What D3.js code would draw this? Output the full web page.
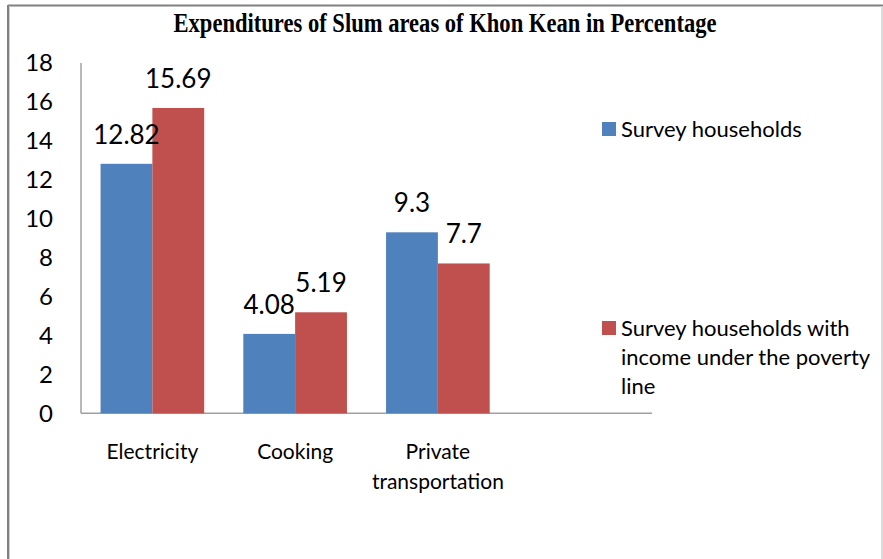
<!DOCTYPE html>
<html>
<head>
<meta charset="utf-8">
<script src="https://cdnjs.cloudflare.com/ajax/libs/d3/7.8.5/d3.min.js"></script>
<style>
  body { margin: 0; background: #fff; }
  svg { display: block; }
  text { font-family: Lato, "Open Sans", sans-serif; fill: #000; }
</style>
</head>
<body>
<svg id="chart" width="883" height="559"></svg>
<script>
// data
const categories = ["Electricity", "Cooking", "Private transportation", ""];
const seriesNames = ["Survey households", "Survey households with income under the poverty line"];
const surveyValues = [12.82, 4.08, 9.3];
const povertyValues = [15.69, 5.19, 7.7];
const yTicks = [0, 2, 4, 6, 8, 10, 12, 14, 16, 18];
const colors = ["#4F81BD", "#C0504D"];

const svg = d3.select("#chart");

// frame round the chart
svg.append("line").attr("x1", 8).attr("x2", 883).attr("y1", 5.5).attr("y2", 5.5)
    .attr("stroke", "#808080").attr("stroke-width", 2);
svg.append("line").attr("x1", 8).attr("x2", 8).attr("y1", 5).attr("y2", 559)
    .attr("stroke", "#808080").attr("stroke-width", 2);
svg.append("line").attr("x1", 9.5).attr("x2", 9.5).attr("y1", 6).attr("y2", 559)
    .attr("stroke", "#d0d0d0").attr("stroke-width", 1);
svg.append("line").attr("x1", 882).attr("x2", 882).attr("y1", 6).attr("y2", 559)
    .attr("stroke", "#d0d0d0").attr("stroke-width", 1.5);

// title (squeezed serif, like the original)
svg.append("text")
    .attr("x", 445).attr("y", 32)
    .attr("text-anchor", "middle")
    .attr("textLength", 543).attr("lengthAdjust", "spacingAndGlyphs")
    .style("font-family", "'Liberation Serif', 'DejaVu Serif', serif")
    .style("font-weight", "bold")
    .style("font-size", "28px")
    .text("Expenditures of Slum areas of Khon Kean in Percentage");

const x0 = d3.scaleBand().domain(categories).range([81, 652]).paddingInner(0.274).paddingOuter(0.137);
const x1 = d3.scaleBand().domain([0, 1]).range([0, x0.bandwidth()]);
const y = d3.scaleLinear().domain([0, 18]).range([413.3, 63]);

// axes
svg.append("line").attr("x1", 81).attr("x2", 81).attr("y1", y(18)).attr("y2", y(0))
    .attr("stroke", "#a0a0a0").attr("stroke-width", 1.5);
svg.append("line").attr("x1", 81).attr("x2", 652).attr("y1", y(0)).attr("y2", y(0))
    .attr("stroke", "#a0a0a0").attr("stroke-width", 1.5);

svg.selectAll(".ytick").data(yTicks).join("text")
    .attr("class", "ytick")
    .attr("x", 53).attr("y", d => y(d))
    .attr("dy", "0.35em")
    .attr("text-anchor", "end")
    .style("font-size", "24px")
    .text(d => d);

// bars
const rows = categories.slice(0, 3).map((c, i) => ({ cat: c, vals: [surveyValues[i], povertyValues[i]] }));

const groups = svg.selectAll(".grp").data(rows).join("g")
    .attr("class", "grp")
    .attr("transform", d => `translate(${x0(d.cat)},0)`);

groups.selectAll("rect").data(d => d.vals.map((v, s) => ({ v, s }))).join("rect")
    .attr("x", d => x1(d.s))
    .attr("width", x1.bandwidth())
    .attr("y", d => y(d.v))
    .attr("height", d => y(0) - y(d.v))
    .attr("fill", d => colors[d.s]);

groups.selectAll(".lbl").data(d => d.vals.map((v, s) => ({ v, s }))).join("text")
    .attr("class", "lbl")
    .attr("x", d => x1(d.s) + x1.bandwidth() / 2)
    .attr("y", d => y(d.v) - 20)
    .attr("text-anchor", "middle")
    .style("font-size", "26px")
    .text(d => d.v);

// category labels
const catLines = { "Electricity": ["Electricity"], "Cooking": ["Cooking"], "Private transportation": ["Private", "transportation"] };
rows.forEach(r => {
    const t = svg.append("text")
        .attr("x", x0(r.cat) + x0.bandwidth() / 2)
        .attr("y", 459)
        .attr("text-anchor", "middle")
        .style("font-size", "21px");
    catLines[r.cat].forEach((ln, i) => {
        t.append("tspan").attr("x", x0(r.cat) + x0.bandwidth() / 2).attr("dy", i ? 30 : 0).text(ln);
    });
});

// legend
const legendLines = [["Survey households"], ["Survey households with", "income under the poverty", "line"]];
const legendY = [129, 328];
legendLines.forEach((lines, i) => {
    svg.append("rect").attr("x", 602).attr("y", legendY[i] - 7).attr("width", 14).attr("height", 14)
        .attr("fill", colors[i]);
    const t = svg.append("text").attr("x", 621).attr("y", legendY[i])
        .style("font-size", "22px");
    lines.forEach((ln, j) => {
        t.append("tspan").attr("x", 621).attr("dy", j ? 29 : "0.35em").text(ln);
    });
});
</script>
</body>
</html>
